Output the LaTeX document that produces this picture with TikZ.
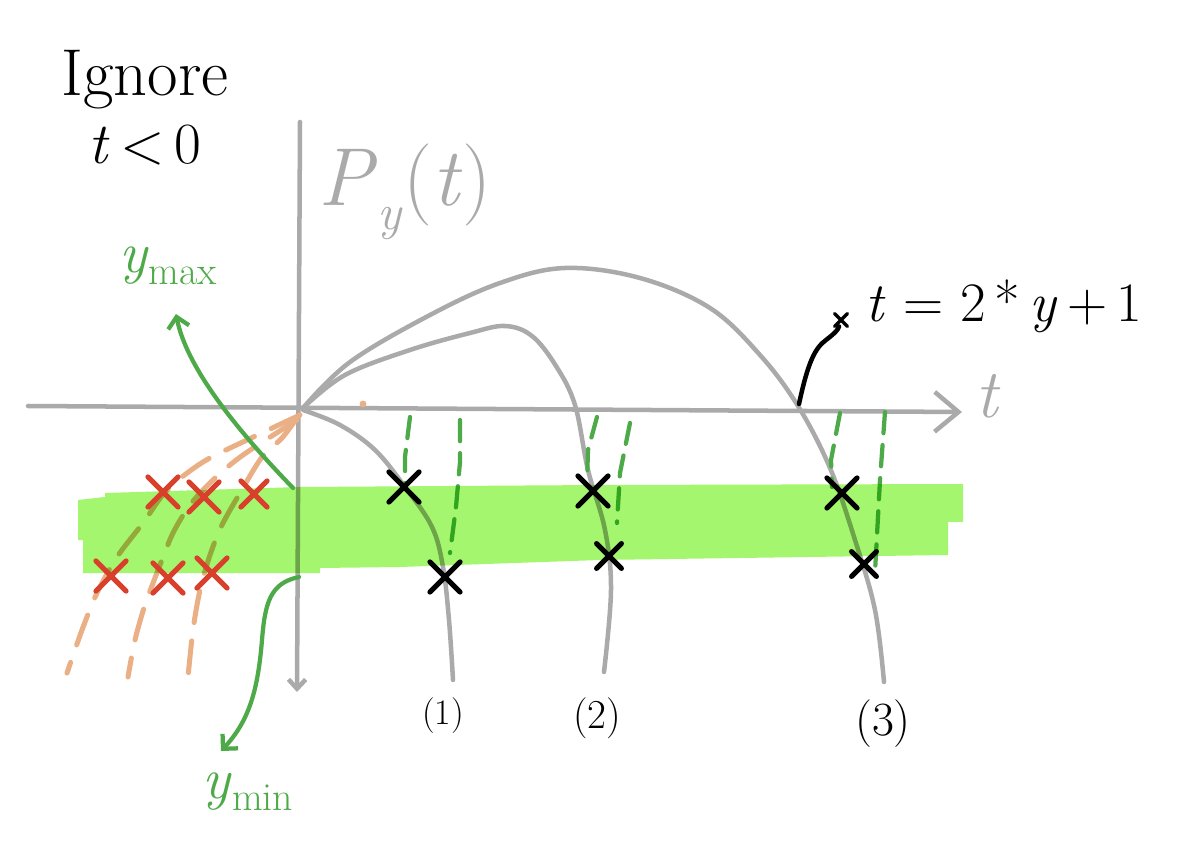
\documentclass[tikz,border=0pt]{standalone}
\usetikzlibrary{arrows.meta,shapes.misc}
\definecolor{axisgray}{RGB}{170,170,170}
\definecolor{pengreen}{RGB}{78,170,72}
\definecolor{bandgreen}{RGB}{164,246,111}
\definecolor{peach}{RGB}{234,175,133}
\definecolor{crossred}{RGB}{216,64,44}
\begin{document}
\begin{tikzpicture}[x=0.0265cm, y=-0.0265cm, line cap=round, line join=round,
    curve/.style={draw=axisgray, line width=3.4pt},
    guide/.style={draw=pengreen, line width=3.2pt, dash pattern=on 16pt off 9pt},
    ghost/.style={draw=peach, line width=3.8pt, dash pattern=on 24pt off 14pt},
    xmk/.style={cross out, draw=black, line width=3.8pt, minimum size=19pt, inner sep=0pt},
    xred/.style={xmk, draw=crossred},
    pointer/.style={draw=pengreen, line width=3.2pt, -{Straight Barb[length=8pt, width=16pt]}},
    hand/.style={inner sep=0pt}]
    \useasboundingbox (0,0) rectangle (1194,862);

    % 坐标轴
    \coordinate (o) at (302,408);
    \coordinate (tstart) at (28,406);
    \coordinate (tend) at (962,412);
    \coordinate (ptop) at (300,122);
    \coordinate (pend) at (297,692);
    \draw[curve, -{Straight Barb[length=18pt, width=30pt]}] (tstart) -- (tend);
    \draw[curve, -{Straight Barb[length=7pt, width=13pt]}] (ptop) -- (pend);
    \node[hand, text=axisgray, font=\fontsize{52}{60}\selectfont] (tlabel) at (988,396) {\textit{t}};
    \node[hand, text=axisgray, font=\fontsize{62}{72}\selectfont] (plabel) at (405,192)
      {\textit{P}\raisebox{-0.3em}{\fontsize{38}{42}\selectfont\textit{y}}(\textit{t})};

    % 三条轨迹
    \draw[curve] plot[smooth, tension=0.6] coordinates {(303,410) (340,425) (375,450) (405,487) (432,527) (443,567) (449,620) (453,680)};
    \draw[curve] plot[smooth, tension=0.6] coordinates {(303,408) (345,375) (410,350) (470,333) (505,326) (532,336) (556,366) (575,405) (588,470) (605,530) (611,590) (604,672)};
    \draw[curve] plot[smooth, tension=0.6] coordinates {(303,408) (350,362) (430,315) (500,283) (565,268) (640,278) (710,308) (760,355) (798,406) (830,468) (855,540) (875,610) (884,682)};
    \node[hand, font=\fontsize{27}{30}\selectfont] (lbl1) at (443,716) {(1)};
    \node[hand, font=\fontsize{31}{34}\selectfont] (lbl2) at (597,718) {(2)};
    \node[hand, font=\fontsize{36}{40}\selectfont] (lbl3) at (883,724) {(3)};

    % 绿色虚线投影
    \draw[guide] (410,417) -- (405,457) -- (405,487);
    \draw[guide] (460,420) -- (460,462) -- (456,507) -- (450,553);
    \draw[guide] (597,417) -- (588,450) -- (587,482);
    \draw[guide] (630,423) -- (620,473) -- (617,523);
    \draw[guide] (840,413) -- (831,460) -- (832,487);
    \draw[guide] (885,412) -- (880,480) -- (875,572);

    % t<0 部分（橙色虚线）
    \draw[ghost] plot[smooth] coordinates {(300,415) (247,440) (203,462) (167,490) (143,523) (117,557) (97,593) (82,630) (67,673)};
    \draw[ghost] plot[smooth] coordinates {(297,420) (243,455) (213,480) (190,505) (173,533) (160,565) (145,605) (135,640) (128,677)};
    \draw[ghost] plot[smooth] coordinates {(297,418) (282,438) (262,457) (240,493) (222,525) (210,555) (200,590) (193,630) (188,677)};
    \fill[peach] (363,404) circle (2.6pt);

    % 荧光带
    \begin{scope}[blend mode=multiply]
      \fill[bandgreen] (78,500) -- (105,497) -- (105,493) -- (300,487) -- (600,485) -- (963,484)
        -- (963,522) -- (948,522) -- (948,555) -- (600,560) -- (400,567) -- (320,568)
        -- (320,573) -- (83,573) -- (83,540) -- (78,540) -- cycle;
    \end{scope}

    % 交点
    \node[xmk] (a1) at (404,487) {};
    \node[xmk] (a2) at (445,577) {};
    \node[xmk] (b1) at (593,491) {};
    \node[xmk, minimum size=15pt] (b2) at (609,556) {};
    \node[xmk] (c1) at (842,493) {};
    \node[xmk, minimum size=15pt] (c2) at (864,564) {};
    \node[xred] (r1) at (163,492) {};
    \node[xred] (r2) at (204,497) {};
    \node[xred, minimum size=16pt] (r3) at (254,494) {};
    \node[xred] (r4) at (111,576) {};
    \node[xred] (r5) at (168,578) {};
    \node[xred] (r6) at (212,573) {};

    % y 范围标注
    \coordinate (maxfoot) at (293,488);
    \coordinate (maxtip) at (176,314);
    \coordinate (minfoot) at (299,577);
    \coordinate (minbend) at (262,640);
    \coordinate (mintip) at (221,751);
    \draw[pointer] (maxfoot) .. controls (232,425) and (186,365) .. (maxtip);
    \draw[pointer] (minfoot) .. controls (270,583) and (265,603) .. (minbend) .. controls (258,688) and (250,720) .. (mintip);
    \node[hand, text=pengreen, font=\fontsize{44}{50}\selectfont] (ymax) at (168,266)
      {\textit{y}\raisebox{-0.2em}{\fontsize{30}{34}\selectfont max}};
    \node[hand, text=pengreen, font=\fontsize{44}{50}\selectfont] (ymin) at (248,792)
      {\textit{y}\raisebox{-0.2em}{\fontsize{30}{34}\selectfont min}};

    % 说明文字
    \node[hand, font=\fontsize{50}{56}\selectfont] (ignore) at (145,80) {Ignore};
    \node[hand, font=\fontsize{44}{50}\selectfont] (neg) at (145,145) {\textit{t}\,<\,0};
    \node[xmk, line width=2.6pt, minimum size=7pt] (eqmark) at (841,320) {};
    \coordinate (cross3) at (799,404);
    \draw[black, line width=3.4pt] (cross3) .. controls (808,362) and (815,348) .. (826,340) .. controls (835,333) and (838,330) .. (eqmark);
    \node[hand, font=\fontsize{42}{48}\selectfont] (eqn) at (1004,306) {\textit{t} = 2\,*\,\textit{y}\,+\,1};
\end{tikzpicture}
\end{document}
